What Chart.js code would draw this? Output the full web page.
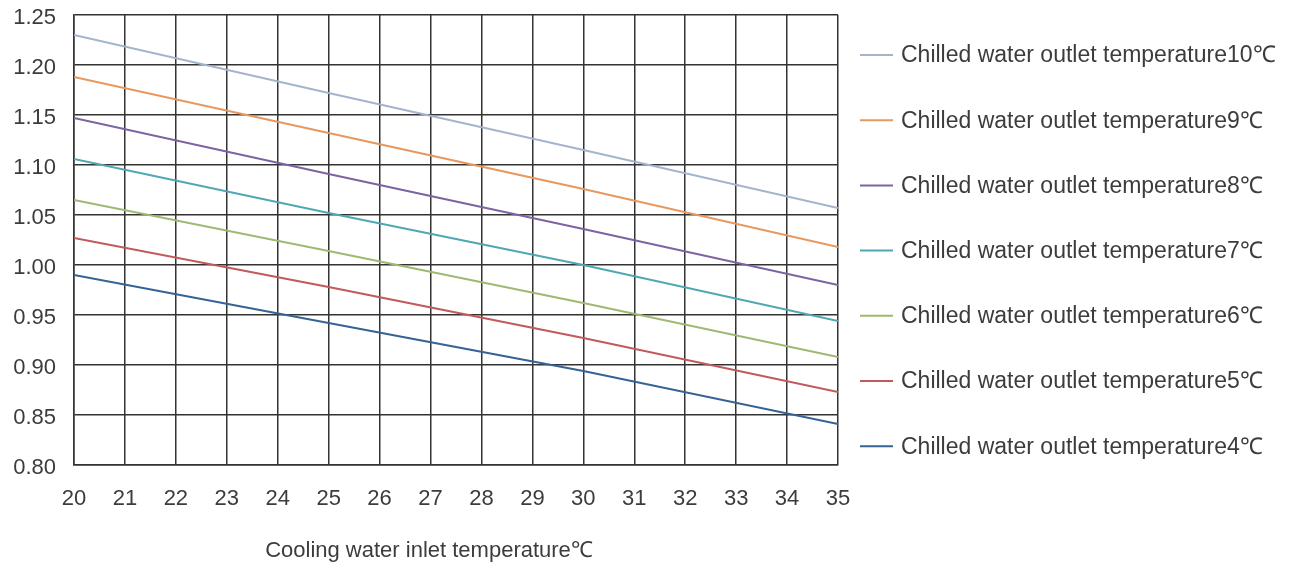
<!DOCTYPE html>
<html>
<head>
<meta charset="utf-8">
<script src="https://cdn.jsdelivr.net/npm/chart.js@4"></script>
<style>
  html, body { margin: 0; padding: 0; background: #fff; }
  #wrap { width: 1293px; height: 566px; }
</style>
</head>
<body>
<div id="wrap"><canvas id="chart"></canvas></div>
<script>
// cooling water inlet temperature (x)
const inletTemps = [20, 25, 30, 35];

// ratio, one array per chilled water outlet temperature
const outlet10 = [1.230, 1.172, 1.115, 1.057];
const outlet9 = [1.188, 1.132, 1.076, 1.018];
const outlet8 = [1.147, 1.091, 1.036, 0.980];
const outlet7 = [1.106, 1.052, 1.000, 0.944];
const outlet6 = [1.065, 1.014, 0.962, 0.908];
const outlet5 = [1.027, 0.978, 0.927, 0.873];
const outlet4 = [0.990, 0.942, 0.894, 0.841];

const seriesNames = [
    'Chilled water outlet temperature10℃',
    'Chilled water outlet temperature9℃',
    'Chilled water outlet temperature8℃',
    'Chilled water outlet temperature7℃',
    'Chilled water outlet temperature6℃',
    'Chilled water outlet temperature5℃',
    'Chilled water outlet temperature4℃'
];
const seriesValues = [outlet10, outlet9, outlet8, outlet7, outlet6, outlet5, outlet4];
const seriesColors = ['#a3b5cc', '#e8975e', '#7c63a3', '#4ea8b4', '#9fb872', '#c05a5c', '#356393'];

const xTitle = 'Cooling water inlet temperature℃';
const fontFamily = '"Liberation Sans", Arial, sans-serif';
const textColor = '#3c3c3c';

const datasets = seriesNames.map(function(name, i) {
    return {
        label: name,
        data: inletTemps.map(function(x, j) { return { x: x, y: seriesValues[i][j] }; }),
        borderColor: seriesColors[i],
        backgroundColor: seriesColors[i],
        borderWidth: 2,
        pointRadius: 0,
        tension: 0
    };
});

// legend at the right and the x axis title, drawn by hand
const sidePlugin = {
    id: 'side',
    afterDraw: function(chart) {
        const ctx = chart.ctx;
        ctx.save();
        ctx.font = '23px ' + fontFamily;
        ctx.textBaseline = 'middle';
        ctx.textAlign = 'left';
        seriesNames.forEach(function(name, i) {
            const y = 55 + i * 65.2;
            ctx.strokeStyle = seriesColors[i];
            ctx.lineWidth = 2;
            ctx.beginPath();
            ctx.moveTo(860, y);
            ctx.lineTo(893, y);
            ctx.stroke();
            ctx.fillStyle = textColor;
            ctx.fillText(name, 901, y + 1);
        });
        ctx.textAlign = 'center';
        ctx.font = '22px ' + fontFamily;
        ctx.fillText(xTitle, 429, 551);
        ctx.restore();
    }
};

new Chart(document.getElementById('chart'), {
    type: 'line',
    data: { datasets: datasets },
    options: {
        responsive: true,
        maintainAspectRatio: false,
        animation: false,
        layout: { padding: { top: 15, right: 455, bottom: 0, left: 0 } },
        plugins: {
            legend: { display: false },
            tooltip: { enabled: false }
        },
        scales: {
            x: {
                type: 'linear',
                min: 20,
                max: 35,
                afterFit: function(scale) { scale.height = 101; },
                ticks: {
                    stepSize: 1,
                    padding: 21,
                    color: textColor,
                    font: { family: fontFamily, size: 22 }
                },
                grid: { color: '#333', lineWidth: 1.5, drawTicks: false },
                border: { color: '#333', width: 1.5 }
            },
            y: {
                min: 0.8,
                max: 1.25,
                afterFit: function(scale) {
                    scale.width = 74;
                    scale.paddingTop = 0;
                    scale.paddingBottom = 0;
                },
                ticks: {
                    stepSize: 0.05,
                    padding: 18,
                    labelOffset: 3,
                    color: textColor,
                    font: { family: fontFamily, size: 22 },
                    callback: function(v) { return v.toFixed(2); }
                },
                grid: { color: '#333', lineWidth: 1.5, drawTicks: false },
                border: { color: '#333', width: 1.5 }
            }
        }
    },
    plugins: [sidePlugin]
});
</script>
</body>
</html>
